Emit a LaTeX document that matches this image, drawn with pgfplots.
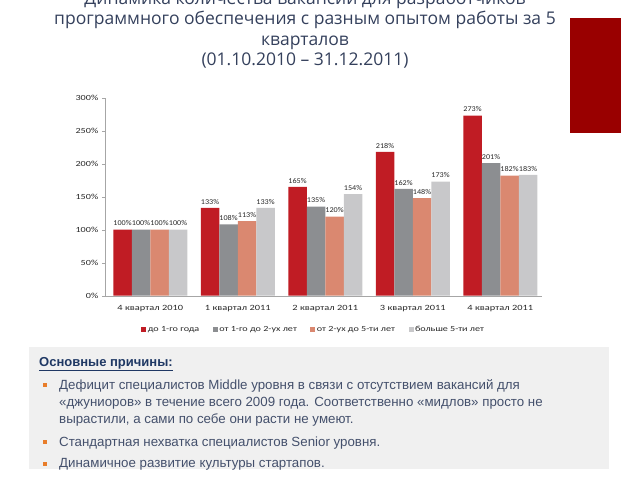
\documentclass[border=0pt]{standalone}
\usepackage{fontspec}
\usepackage{pgfplots}
\pgfplotsset{compat=1.18}
\newfontfamily\titlefont{Open Sans}
\newfontfamily\chartfont[FakeStretch=1.3]{Carlito}
\newfontfamily\datafont[FakeStretch=1.1]{Carlito}
\newfontfamily\bodyfont{Liberation Sans}
\definecolor{cred}{RGB}{192,28,36}
\definecolor{cgray}{RGB}{140,142,145}
\definecolor{csalmon}{RGB}{218,136,112}
\definecolor{clight}{RGB}{200,200,202}
\definecolor{titlecol}{RGB}{52,64,92}
\definecolor{bodycol}{RGB}{68,80,108}
\definecolor{headcol}{RGB}{31,56,100}
\definecolor{boxcol}{RGB}{240,240,240}
\definecolor{bulletcol}{RGB}{232,125,42}
\definecolor{darkred}{RGB}{153,0,0}
\definecolor{labcol}{RGB}{40,40,40}
\begin{document}
\begin{tikzpicture}[x=1pt,y=1pt]
\path[use as bounding box] (0,0) rectangle (640,480);
% title
\begin{scope}[every node/.style={anchor=base,inner sep=0pt,font=\titlefont\fontsize{17.5}{20}\selectfont,text=titlecol}]
\node at (305,475.5) {Динамика количества вакансий для разработчиков};
\node at (305,455) {программного обеспечения с разным опытом работы за 5};
\node at (305,434.5) {кварталов};
\node at (305,414) {(01.10.2010 – 31.12.2011)};
\end{scope}
% red rectangle
\fill[darkred] (570,347) rectangle (621,462);
% chart
\begin{axis}[
  at={(104.8pt,184.3pt)}, anchor=south west,
  scale only axis, width=437.5pt, height=198pt,
  xmin=-0.52, xmax=4.48, ymin=0, ymax=300,
  ybar=0pt, bar width=18.5pt,
  axis x line*=bottom, axis y line*=left,
  axis line style={draw=black!35},
  xtick={0,1,2,3,4},
  xticklabels={4 квартал 2010,1 квартал 2011,2 квартал 2011,3 квартал 2011,4 квартал 2011},
  x tick style={draw=none},
  ytick={0,50,...,300},
  y tick style={draw=black!35},
  tick align=outside, major tick length=3pt,
  /pgf/number format/assume math mode=true,
  yticklabel={\pgfmathprintnumber{\tick}\%},
  ticklabel style={font=\chartfont\fontsize{7.8}{9}\selectfont, text=labcol},
  xticklabel style={font=\chartfont\fontsize{8}{10}\selectfont, text=labcol, yshift=-3pt},
  nodes near coords={\pgfmathprintnumber{\pgfplotspointmeta}\%},
  nodes near coords style={font=\datafont\fontsize{7.4}{9}\selectfont, text=labcol, yshift=3pt, inner sep=0.5pt},
  legend style={at={(0.477,-0.172)}, anchor=center, legend columns=4, draw=none, fill=none,
    font=\chartfont\fontsize{7.8}{9}\selectfont, text=labcol,
    nodes={inner sep=1.5pt},
    /tikz/every even column/.append style={column sep=12pt}},
  every axis plot/.append style={draw=none, legend image code/.code={\fill[##1] (0pt,-2.5pt) rectangle (5pt,2.5pt);}},
]
\addplot[fill=cred] coordinates {(0,100) (1,133) (2,165) (3,218) (4,273)};
\addplot[fill=cgray] coordinates {(0,100) (1,108) (2,135) (3,162) (4,201)};
\addplot[fill=csalmon] coordinates {(0,100) (1,113) (2,120) (3,148) (4,182)};
\addplot[fill=clight] coordinates {(0,100) (1,133) (2,154) (3,173) (4,183)};
\legend{до 1-го года, от 1-го до 2-ух лет, от 2-ух до 5-ти лет, больше 5-ти лет}
\end{axis}
% bottom box
\fill[boxcol] (29,11) rectangle (609,133);
\node[anchor=base west, inner sep=0pt, font=\bodyfont\bfseries\fontsize{13}{15}\selectfont, text=headcol] at (39,114) {\underline{Основные причины:}};
\begin{scope}[every node/.style={anchor=base west,inner sep=0pt,font=\bodyfont\fontsize{13.3}{15}\selectfont,text=bodycol}]
\node at (59,91) {Дефицит специалистов Middle уровня в связи с отсутствием вакансий для};
\node at (59,74) {«джуниоров» в течение всего 2009 года. Соответственно «мидлов» просто не};
\node at (59,57) {вырастили, а сами по себе они расти не умеют.};
\node at (59,34) {Стандартная нехватка специалистов Senior уровня.};
\node at (59,12.5) {Динамичное развитие культуры стартапов.};
\end{scope}
\fill[bulletcol] (43,93) rectangle (47,97);
\fill[bulletcol] (43,36) rectangle (47,40);
\fill[bulletcol] (43,14.5) rectangle (47,18.5);
\end{tikzpicture}
\end{document}
